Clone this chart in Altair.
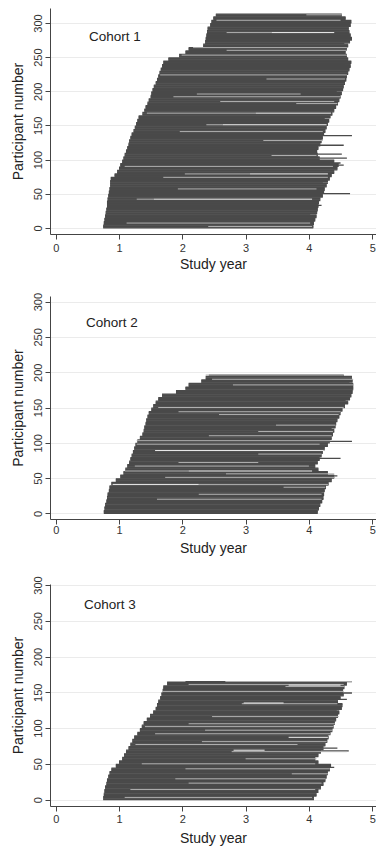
import altair as alt
import pandas as pd

FONT = "Liberation Sans"
DARK = "#4a4a4a"
LIGHT = "#b0b0b0"
GAPC = "#f0f0f0"
BLOCK = 5  # participants per block in the start/end arrays

Y_TICKS = [0, 50, 100, 150, 200, 250, 300]
X_TICKS = [0, 1, 2, 3, 4, 5]

# ---------------- Cohort 1 ----------------
C1_N = 314
C1_START = [0.75, 0.76, 0.77, 0.78, 0.79, 0.80, 0.81, 0.81, 0.82, 0.83,
            0.84, 0.85, 0.86, 0.86, 0.87, 0.93, 0.97, 1.00, 1.02, 1.05,
            1.07, 1.09, 1.11, 1.13, 1.15, 1.16, 1.18, 1.20, 1.23, 1.25,
            1.27, 1.29, 1.31, 1.37, 1.40, 1.42, 1.45, 1.47, 1.50, 1.51,
            1.53, 1.55, 1.58, 1.60, 1.62, 1.64, 1.66, 1.68, 1.70, 1.78,
            1.95, 2.05, 2.10, 2.33, 2.36, 2.37, 2.38, 2.39, 2.40, 2.44,
            2.46, 2.49, 2.53]
C1_END = [4.07, 4.08, 4.10, 4.12, 4.13, 4.14, 4.15, 4.16, 4.18, 4.22,
          4.24, 4.25, 4.28, 4.30, 4.33, 4.36, 4.40, 4.45, 4.47, 4.40,
          4.17, 4.14, 4.13, 4.15, 4.18, 4.20, 4.22, 4.24, 4.26, 4.28,
          4.30, 4.32, 4.34, 4.37, 4.40, 4.43, 4.46, 4.48, 4.50, 4.52,
          4.54, 4.55, 4.57, 4.59, 4.60, 4.62, 4.64, 4.66, 4.67, 4.62,
          4.60, 4.58, 4.60, 4.62, 4.65, 4.68, 4.66, 4.64, 4.63, 4.66,
          4.67, 4.58, 4.52]
C1_LONG = [(50, 4.65), (92, 4.55), (95, 4.50), (102, 4.60), (108, 4.52),
           (121, 4.55), (135, 4.68), (20, 4.02), (33, 4.20), (66, 4.22),
           (160, 4.25), (200, 4.44), (240, 4.58), (270, 4.56)]
C1_LIGHT = [(2, 2.41, 4.05), (7, 1.12, 4.02), (42, 1.28, 1.55), (57, 1.93, 4.12),
            (74, 1.70, 4.30), (79, 2.04, 3.07), (90, 1.09, 4.38), (106, 3.41, 4.12),
            (128, 3.28, 4.22), (141, 1.96, 4.22), (151, 2.38, 2.64), (168, 1.44, 3.16),
            (182, 3.80, 4.45), (185, 2.60, 4.40), (192, 1.86, 4.50), (196, 2.23, 3.87),
            (218, 3.33, 4.57), (224, 1.65, 4.60), (253, 1.99, 4.60), (260, 2.70, 4.60),
            (264, 2.17, 4.60), (286, 2.70, 3.41), (304, 2.54, 4.50), (312, 3.96, 4.52)]
C1_GAP = [(42, 1.55, 4.05), (79, 3.07, 4.30), (151, 2.64, 4.28),
          (168, 3.16, 4.35), (286, 3.41, 4.40)]

# ---------------- Cohort 2 ----------------
C2_N = 197
C2_START = [0.76, 0.77, 0.78, 0.80, 0.81, 0.82, 0.84, 0.85, 0.88, 0.95,
            1.02, 1.07, 1.10, 1.13, 1.16, 1.18, 1.20, 1.22, 1.24, 1.26,
            1.29, 1.33, 1.37, 1.39, 1.40, 1.42, 1.43, 1.45, 1.47, 1.51,
            1.54, 1.58, 1.62, 1.68, 1.90, 2.05, 2.10, 2.30, 2.37, 2.42]
C2_END = [4.14, 4.16, 4.18, 4.21, 4.23, 4.24, 4.25, 4.27, 4.31, 4.36,
          4.40, 4.30, 4.15, 4.10, 4.14, 4.17, 4.20, 4.22, 4.25, 4.30,
          4.33, 4.36, 4.38, 4.40, 4.42, 4.43, 4.45, 4.48, 4.50, 4.53,
          4.57, 4.62, 4.65, 4.67, 4.69, 4.70, 4.70, 4.69, 4.68, 4.55]
C2_LONG = [(102, 4.68), (78, 4.50), (53, 4.45), (30, 4.20), (120, 4.36),
           (160, 4.58), (185, 4.64)]
C2_LIGHT = [(20, 1.60, 4.20), (27, 2.26, 4.20), (37, 3.60, 4.26), (41, 2.26, 4.30),
            (51, 1.73, 4.40), (56, 2.69, 4.40), (60, 1.09, 2.10), (67, 1.25, 4.00),
            (72, 1.94, 3.20), (84, 3.20, 4.20), (98, 1.28, 4.17), (103, 1.28, 4.34),
            (110, 2.42, 4.36), (116, 3.20, 4.38), (125, 3.48, 4.42), (140, 2.58, 4.47),
            (144, 1.94, 4.50), (150, 1.62, 4.55), (182, 2.80, 4.70), (190, 2.47, 4.70),
            (196, 2.37, 4.55)]
C2_GAP = [(41, 0.90, 2.26), (60, 2.10, 4.05), (89, 1.57, 4.23)]

# ---------------- Cohort 3 ----------------
C3_N = 166
C3_START = [0.75, 0.76, 0.77, 0.78, 0.80, 0.81, 0.83, 0.85, 0.88, 0.95,
            1.00, 1.05, 1.08, 1.11, 1.15, 1.18, 1.21, 1.24, 1.29, 1.33,
            1.36, 1.39, 1.44, 1.49, 1.54, 1.58, 1.60, 1.62, 1.65, 1.67,
            1.69, 1.70, 1.76, 2.05]
C3_END = [4.08, 4.12, 4.15, 4.19, 4.23, 4.26, 4.28, 4.30, 4.33, 4.35,
          4.15, 4.10, 4.15, 4.19, 4.23, 4.26, 4.29, 4.31, 4.34, 4.37,
          4.39, 4.41, 4.43, 4.46, 4.48, 4.52, 4.53, 4.46, 4.50, 4.55,
          4.54, 4.56, 4.60, 4.68]
C3_LONG = [(68, 4.63), (72, 4.45), (149, 4.68), (140, 4.60), (45, 4.40),
           (12, 4.05), (90, 4.30), (125, 4.44)]
C3_LIGHT = [(3, 1.09, 4.05), (14, 1.18, 4.10), (23, 2.10, 4.20), (29, 1.89, 4.26),
            (36, 3.73, 4.30), (43, 2.05, 4.33), (50, 1.36, 4.10), (57, 3.00, 4.12),
            (67, 2.78, 4.60), (77, 1.26, 3.82), (81, 2.31, 4.28), (92, 1.57, 4.34),
            (97, 2.36, 4.37), (102, 1.41, 4.39), (106, 2.10, 4.41), (116, 2.47, 4.47),
            (134, 2.94, 4.45), (151, 1.68, 4.55), (158, 3.63, 4.56), (161, 2.10, 4.55),
            (165, 2.68, 4.68)]
C3_GAP = [(87, 3.68, 4.30), (69, 2.81, 3.30), (160, 3.68, 4.50), (135, 2.97, 3.60)]


def participants(n, starts, ends, long_ends):
    over = dict(long_ends)
    rows = []
    for p in range(n):
        b = p // BLOCK
        rows.append({"p": p, "start": starts[b], "end": over.get(p, ends[b])})
    return pd.DataFrame(rows)


def segments(lst):
    return pd.DataFrame([{"p": p, "start": a, "end": b} for p, a, b in lst])


def panel(n, starts, ends, long_ends, light, gap, label, ydom, height,
          lab_x, lab_y, xlabpad, xtitlepad):
    xscale = alt.Scale(domain=[-0.09, 5.06], nice=False, zero=False)
    yscale = alt.Scale(domain=ydom, nice=False, zero=False)
    xaxis = alt.Axis(values=X_TICKS, title="Study year", grid=False, format="d",
                     labelPadding=xlabpad, titlePadding=xtitlepad, labelFlush=False)
    yaxis = alt.Axis(values=Y_TICKS, title="Participant number", grid=True,
                     gridColor="#ebebeb", gridWidth=1, format="d",
                     labelAngle=-90, labelAlign="center", labelBaseline="bottom",
                     labelPadding=2, titlePadding=7)

    def enc(chart):
        return chart.encode(
            x=alt.X("start:Q", scale=xscale, axis=xaxis),
            x2="end:Q",
            y=alt.Y("p:Q", scale=yscale, axis=yaxis),
        )

    base = enc(alt.Chart(participants(n, starts, ends, long_ends))
               .mark_rule(color=DARK, strokeWidth=1.3))
    lt = enc(alt.Chart(segments(light)).mark_rule(color=LIGHT, strokeWidth=1))
    gp = enc(alt.Chart(segments(gap)).mark_rule(color=GAPC, strokeWidth=1))
    txt = alt.Chart(pd.DataFrame({"t": [label]})).mark_text(
        align="left", baseline="middle", fontSize=13.5, font=FONT, color="#222"
    ).encode(text="t:N", x=alt.value(lab_x), y=alt.value(lab_y))
    return alt.layer(base, lt, gp, txt).properties(width=326, height=height)


p1 = panel(C1_N, C1_START, C1_END, C1_LONG, C1_LIGHT, C1_GAP, "Cohort 1",
           [-9, 322], 226, 39, 28.7, 3.5, 4)
p2 = panel(C2_N, C2_START, C2_END, C2_LONG, C2_LIGHT, C2_GAP, "Cohort 2",
           [-8, 308], 223, 36, 26.7, 0, 6)
p3 = panel(C3_N, C3_START, C3_END, C3_LONG, C3_LIGHT, C3_GAP, "Cohort 3",
           [-9, 301.4], 222, 34, 21, 2, 7.5)

chart = alt.vconcat(p1, p2, p3, spacing=20).properties(
    padding={"left": 11, "top": 8, "right": 0, "bottom": 0},
    background="white",
).configure_view(strokeWidth=0).configure_axis(
    domainColor="#444", tickColor="#444", labelColor="#333", titleColor="#222",
    labelFont=FONT, titleFont=FONT, titleFontWeight="normal",
    labelFontSize=11, titleFontSize=14, tickSize=5, domainWidth=1, tickWidth=1,
)

chart.save("out.html", embed_options={"renderer": "svg", "actions": False})
